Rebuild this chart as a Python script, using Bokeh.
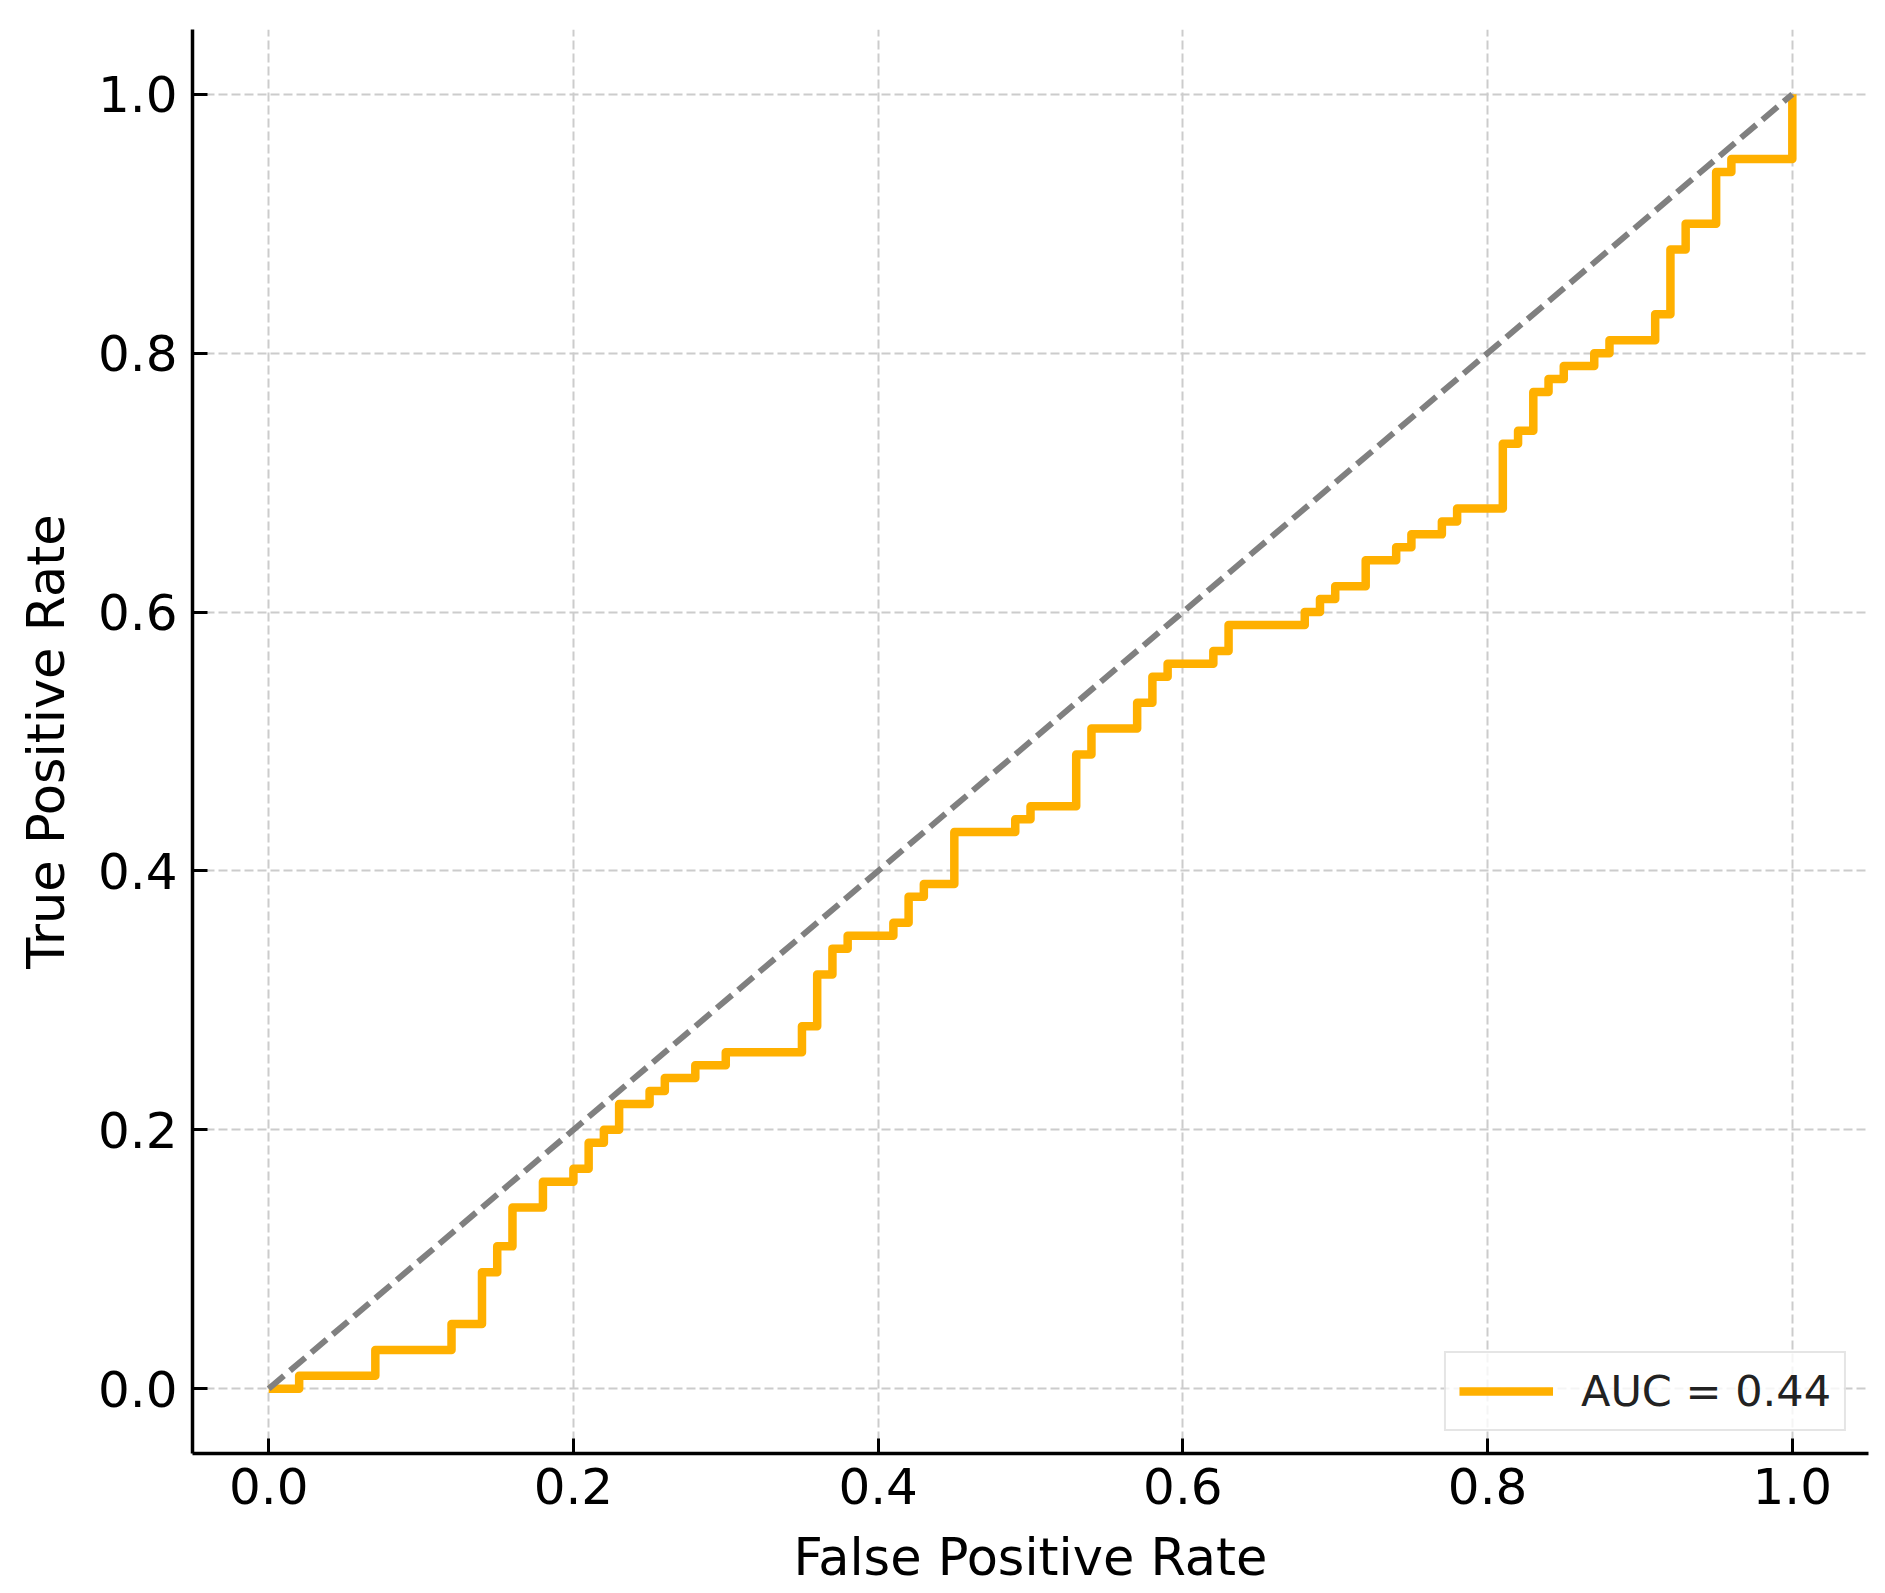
from bokeh.plotting import figure
from bokeh.models import FixedTicker, Range1d
from bokeh.embed import file_html
from bokeh.resources import INLINE

# ROC curve data (step points)
fpr = [0.00, 0.02, 0.07, 0.12, 0.14, 0.15, 0.16, 0.18, 0.20, 0.21, 0.22, 0.23,
       0.25, 0.26, 0.28, 0.30, 0.35, 0.36, 0.37, 0.38, 0.41, 0.42, 0.43, 0.45,
       0.49, 0.50, 0.53, 0.54, 0.57, 0.58, 0.59, 0.62, 0.63, 0.68, 0.69, 0.70,
       0.72, 0.74, 0.75, 0.77, 0.78, 0.81, 0.82, 0.83, 0.84, 0.85, 0.87, 0.88,
       0.91, 0.92, 0.93, 0.95, 0.96, 1.00]
tpr = [0.00, 0.01, 0.03, 0.05, 0.09, 0.11, 0.14, 0.16, 0.17, 0.19, 0.20, 0.22,
       0.23, 0.24, 0.25, 0.26, 0.28, 0.32, 0.34, 0.35, 0.36, 0.38, 0.39, 0.43,
       0.44, 0.45, 0.49, 0.51, 0.53, 0.55, 0.56, 0.57, 0.59, 0.60, 0.61, 0.62,
       0.64, 0.65, 0.66, 0.67, 0.68, 0.73, 0.74, 0.77, 0.78, 0.79, 0.80, 0.81,
       0.83, 0.88, 0.90, 0.94, 0.95, 1.00]
auc_value = 0.44

diag_x = [0.0, 1.0]
diag_y = [0.0, 1.0]

tick_values = [0.0, 0.2, 0.4, 0.6, 0.8, 1.0]
tick_labels = ["0.0", "0.2", "0.4", "0.6", "0.8", "1.0"]

x_label = "False Positive Rate"
y_label = "True Positive Rate"

FONT = "DejaVu Sans"

p = figure(width=1878, height=1592,
           x_range=Range1d(-0.05, 1.05), y_range=Range1d(-0.05, 1.05),
           output_backend="svg", toolbar_location=None,
           min_border_left=192, min_border_right=10,
           min_border_top=29, min_border_bottom=139)

p.outline_line_color = None
p.background_fill_color = "white"
p.border_fill_color = "white"

p.step(x=fpr, y=tpr, mode="after", line_color="#FFB000", line_width=8.5,
       line_join="round", legend_label=f"AUC = {auc_value:.2f}")
p.line(x=diag_x, y=diag_y, line_color="#808080", line_width=6,
       line_dash="20 8")

for ax in (p.xaxis[0], p.yaxis[0]):
    ax.ticker = FixedTicker(ticks=tick_values)
    ax.major_label_overrides = {v: l for v, l in zip(tick_values, tick_labels)}
    ax.major_label_text_font = FONT
    ax.major_label_text_font_size = "50px"
    ax.major_label_text_color = "black"
    ax.axis_label_text_font = FONT
    ax.axis_label_text_font_size = "51px"
    ax.axis_label_text_font_style = "normal"
    ax.axis_label_text_color = "black"
    ax.axis_line_color = "black"
    ax.axis_line_width = 3.5
    ax.major_tick_line_color = "black"
    ax.major_tick_line_width = 3
    ax.major_tick_in = 15
    ax.major_tick_out = 0
    ax.minor_tick_line_color = None

p.xaxis.axis_label = x_label
p.yaxis.axis_label = y_label
p.xaxis.major_label_standoff = 14
p.yaxis.major_label_standoff = 15
p.xaxis.axis_label_standoff = 21
p.yaxis.axis_label_standoff = 19

for g in (p.xgrid[0], p.ygrid[0]):
    g.ticker = FixedTicker(ticks=tick_values)
    g.grid_line_color = "#cccccc"
    g.grid_line_width = 2
    g.grid_line_dash = "9 4"

lg = p.legend[0]
lg.location = "bottom_right"
lg.margin = 22
lg.padding = 13
lg.spacing = 0
lg.glyph_width = 94
lg.glyph_height = 50
lg.label_height = 50
lg.label_standoff = 28
lg.label_text_font = FONT
lg.label_text_font_size = "43px"
lg.label_text_color = "#222222"
lg.border_line_color = "#cccccc"
lg.border_line_width = 2
lg.background_fill_color = "white"
lg.background_fill_alpha = 0.8

open("out.html", "w").write(file_html(p, INLINE))
